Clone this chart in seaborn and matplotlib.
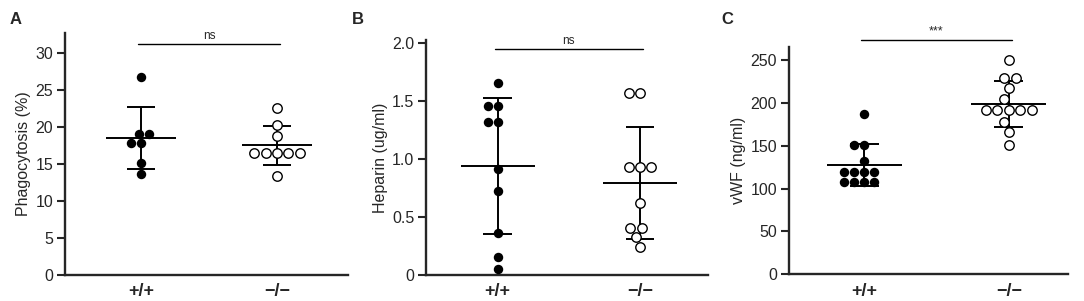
import numpy as np
import pandas as pd
import matplotlib
matplotlib.use("Agg")
import matplotlib.pyplot as plt
import seaborn as sns

# ---- data ----
groups = ["+/+", "\u2212/\u2212"]

phago_wt = [26.8, 19.05, 19.05, 17.8, 17.8, 15.1, 13.7]
phago_ko = [22.6, 20.3, 18.8, 16.5, 16.5, 16.5, 16.5, 16.5, 13.4]

hep_wt = [1.655, 1.46, 1.46, 1.32, 1.32, 0.915, 0.727, 0.367, 0.158, 0.052]
hep_ko = [1.574, 1.574, 0.935, 0.935, 0.935, 0.624, 0.41, 0.41, 0.331, 0.244]

vwf_wt = [187.6, 151.2, 151.2, 132.8, 119.1, 119.1, 119.1, 119.1,
          107.4, 107.4, 107.4, 107.4]
vwf_ko = [250.0, 228.6, 228.6, 216.9, 204.0, 192.3, 192.3, 192.3, 192.3, 192.3,
          177.7, 166.0, 150.4]

letters = ["A", "B", "C"]
ylabels = ["Phagocytosis (%)", "Heparin (ug/ml)", "vWF (ng/ml)"]
yticks = [[0, 5, 10, 15, 20, 25, 30], [0, 0.5, 1.0, 1.5, 2.0], [0, 50, 100, 150, 200, 250]]
yticklabels = [["0", "5", "10", "15", "20", "25", "30"],
               ["0", "0.5", "1.0", "1.5", "2.0"],
               ["0", "50", "100", "150", "200", "250"]]
sig_text = ["ns", "ns", "***"]
sig_y = [31.2, 1.952, 274.0]
ylims = [(0, 32.7), (0, 2.03), (0, 265.6)]

datasets = [(phago_wt, phago_ko), (hep_wt, hep_ko), (vwf_wt, vwf_ko)]

# ---- layout ----
W, H = 1084, 301
sns.set_style("ticks")
plt.rcParams["font.family"] = ["Liberation Sans", "DejaVu Sans"]

fig = plt.figure(figsize=(W / 100, H / 100), dpi=100)

rects_px = [(65, 275, 348, 33), (426, 275, 708, 40), (789, 274.3, 1068, 46.7)]
xlims = [(-0.559, 1.522), (-0.504, 1.478), (-0.521, 1.41)]
letter_x = [10, 352, 721]

for i in range(3):
    l, b, r, t = rects_px[i]
    ax = fig.add_axes([l / W, 1 - b / H, (r - l) / W, (b - t) / H])
    wt, ko = datasets[i]
    df = pd.DataFrame({"g": [groups[0]] * len(wt) + [groups[1]] * len(ko),
                       "v": list(wt) + list(ko)})

    sns.swarmplot(data=df[df.g == groups[0]], x="g", y="v", order=groups,
                  color="black", size=6.8, ax=ax, zorder=3)
    sns.swarmplot(data=df[df.g == groups[1]], x="g", y="v", order=groups,
                  color="white", edgecolor="black", linewidth=1.0, size=6.8,
                  ax=ax, zorder=3)

    stats = df.groupby("g")["v"].agg(["mean", "std"]).reindex(groups)
    for k, g in enumerate(groups):
        m, s = stats.loc[g, "mean"], stats.loc[g, "std"]
        ax.hlines(m, k - 0.26, k + 0.26, color="black", lw=1.4, zorder=2)
        ax.vlines(k, m - s, m + s, color="black", lw=1.4, zorder=2)
        ax.hlines([m - s, m + s], k - 0.1, k + 0.1, color="black", lw=1.4, zorder=2)

    # significance bar
    ax.plot([-0.02, 1.02], [sig_y[i], sig_y[i]], color="black", lw=1.0, clip_on=False)
    ax.annotate(sig_text[i], xy=(0.5, sig_y[i]), xytext=(0, 1.5),
                textcoords="offset points", ha="center", va="bottom",
                fontsize=8.5 if sig_text[i] == "ns" else 9, annotation_clip=False)

    ax.set_xlim(*xlims[i])
    ax.set_ylim(*ylims[i])
    ax.set_yticks(yticks[i])
    ax.set_yticklabels(yticklabels[i], fontsize=11.5)
    ax.set_xticks([0, 1])
    ax.set_xticklabels(groups, fontsize=13, fontweight="bold")
    ax.set_xlabel("")
    ax.set_ylabel(ylabels[i], fontsize=11.5, labelpad=3)
    ax.tick_params(axis="y", length=6, width=1.5, pad=2.5)
    ax.tick_params(axis="x", length=0, pad=6)
    for sp in ["top", "right"]:
        ax.spines[sp].set_visible(False)
    for sp in ["left", "bottom"]:
        ax.spines[sp].set_linewidth(1.7)

    fig.text(letter_x[i] / W, 1 - 20 / H, letters[i], fontsize=12,
             fontweight="bold", ha="left", va="center")

fig.savefig("out.png", dpi=100)
